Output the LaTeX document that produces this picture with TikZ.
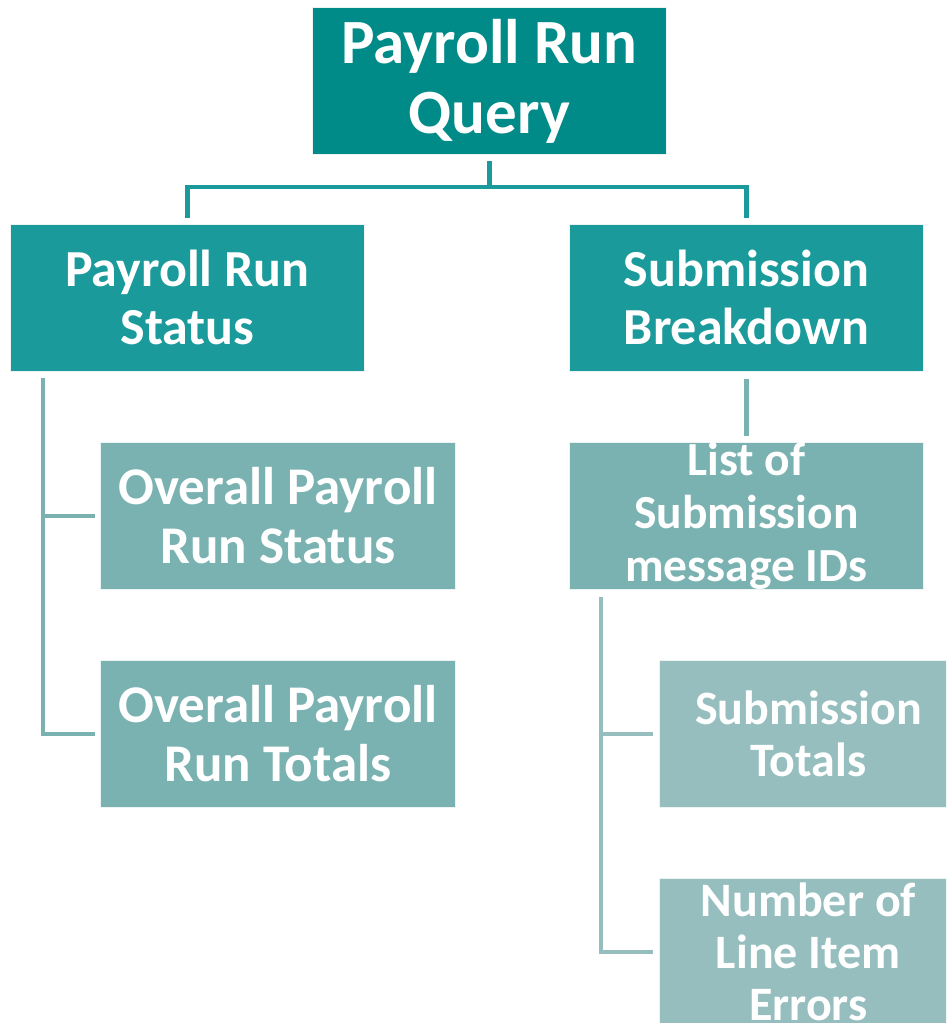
\documentclass[tikz,border=0pt]{standalone}
\usepackage{fontspec}
\setmainfont{Carlito}
\definecolor{lvA}{HTML}{008B88}
\definecolor{lvB}{HTML}{1A9A9A}
\definecolor{lvC}{HTML}{7AB2B2}
\definecolor{lvD}{HTML}{96BEBE}
\tikzset{
  box/.style={anchor=north west, inner sep=0pt, align=center, text=white,
    draw=white!85!lvC, line width=0.8pt},
  topbox/.style={box, fill=lvA, minimum width=354pt, minimum height=147pt,
    font=\bfseries\fontsize{63}{70}\selectfont},
  midbox/.style={box, fill=lvB, minimum width=354pt, minimum height=147pt,
    font=\bfseries\fontsize{52}{58}\selectfont},
  subbox/.style={box, fill=lvC, minimum width=355pt, minimum height=147pt,
    font=\bfseries\fontsize{53}{59}\selectfont},
  leafbox/.style={box, fill=lvD, minimum width=298pt, minimum height=147pt,
    font=\bfseries\fontsize{48}{52}\selectfont},
  lk/.style={line width=4.5pt, line join=miter},
}
\begin{document}
\begin{tikzpicture}[x=1pt,y=-1pt]
\useasboundingbox (0,0) rectangle (946,1023);
\clip (0,0) rectangle (946,1023);

% boxes
\node[topbox] (q) at (312,7) {Payroll Run\\Query};
\node[midbox] (prs) at (10,224) {Payroll Run\\Status};
\node[midbox] (sb) at (569,224) {Submission\\Breakdown};
\node[subbox] (ops) at (100,442) {Overall Payroll\\Run Status};
\node[subbox] (opt) at (100,660) {Overall Payroll\\Run Totals};
\node[subbox, font=\bfseries\fontsize{47.5}{53}\selectfont, minimum width=354pt] (lsm) at (569,442) {List of\\Submission\\message IDs};
\node[leafbox] (st) at (659,660) {Submission\\Totals};
\node[leafbox] (nle) at (659,878) {Number of\\Line Item\\Errors};

% top level connectors
\coordinate (j) at (489,187);
\draw[lk, lvB] ([yshift=-6pt]q.south) -- (q.south |- j);
\draw[lk, lvB] ([yshift=6pt]prs.north) |- (j) -| ([yshift=6pt]sb.north);

% left branch
\coordinate (lt) at (43,378);
\draw[lk, lvC] (lt) |- ([xshift=-5pt]ops.west);
\draw[lk, lvC] (lt) |- ([xshift=-5pt]opt.west);

% right branch
\draw[lk, lvC] ([yshift=-7pt]sb.south) -- ([yshift=6pt]lsm.north);
\coordinate (rt) at (601,597);
\draw[lk, lvD] (rt) |- ([xshift=-6pt]st.west);
\draw[lk, lvD] (rt) |- ([xshift=-6pt]nle.west);
\end{tikzpicture}
\end{document}
